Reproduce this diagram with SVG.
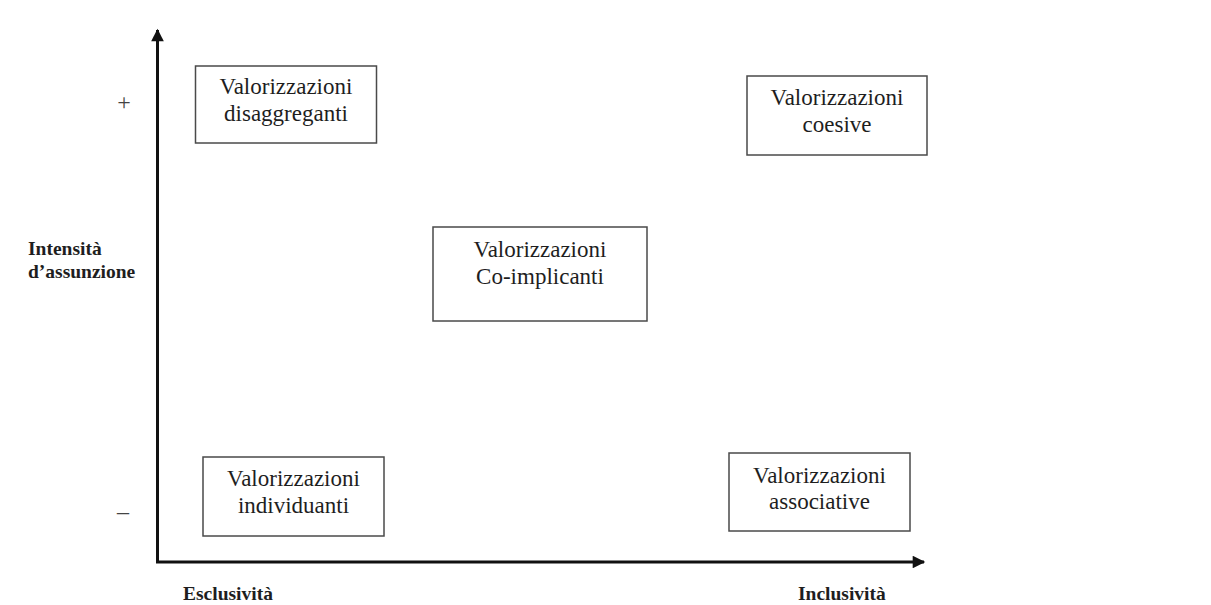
<svg xmlns="http://www.w3.org/2000/svg" width="1211" height="605" viewBox="0 0 1211 605">
  <style>
    .box rect { fill: #fff; stroke: #4a4a4a; stroke-width: 1.5; }
    .box text { font-family: "Liberation Serif", "Times New Roman", serif; font-size: 23px; fill: #1e1e1e; text-anchor: middle; }
    .lbl { font-family: "Liberation Serif", "Times New Roman", serif; font-size: 19.5px; font-weight: bold; fill: #1e1e1e; }
    .sign { font-family: "Liberation Serif", "Times New Roman", serif; font-size: 24px; fill: #444; text-anchor: middle; }
    .axis { stroke: #111; stroke-width: 3; fill: none; }
  </style>
  <defs>
    <marker id="arrow" viewBox="0 0 10 10" refX="9" refY="5" markerWidth="4.6" markerHeight="4.2" orient="auto" markerUnits="strokeWidth">
      <path d="M0,0 L10,5 L0,10 Z" fill="#111"/>
    </marker>
  </defs>
  <rect width="1211" height="605" fill="#fff"/>

  <!-- axes -->
  <g id="connectors">
    <line class="axis" x1="157.5" y1="562" x2="157.5" y2="30" marker-end="url(#arrow)"/>
    <line class="axis" x1="156" y1="562" x2="924" y2="562" marker-end="url(#arrow)"/>
  </g>

  <!-- axis labels -->
  <g id="label-plus"><text class="sign" x="124" y="110">+</text></g>
  <g id="label-minus"><text class="sign" x="123" y="519">–</text></g>
  <g id="label-intensita">
    <text class="lbl" x="28" y="255">Intensità</text>
    <text class="lbl" x="28" y="278">d’assunzione</text>
  </g>
  <g id="label-esclusivita"><text class="lbl" x="183" y="600">Esclusività</text></g>
  <g id="label-inclusivita"><text class="lbl" x="798" y="600">Inclusività</text></g>

  <!-- nodes -->
  <g id="node-disaggreganti" class="box">
    <rect x="195.5" y="66" width="181" height="77"/>
    <text x="286" y="94">Valorizzazioni</text>
    <text x="286" y="121">disaggreganti</text>
  </g>
  <g id="node-coesive" class="box">
    <rect x="747" y="76" width="180" height="79"/>
    <text x="837" y="105">Valorizzazioni</text>
    <text x="837" y="132">coesive</text>
  </g>
  <g id="node-coimplicanti" class="box">
    <rect x="433" y="227" width="214" height="94"/>
    <text x="540" y="257">Valorizzazioni</text>
    <text x="540" y="284">Co-implicanti</text>
  </g>
  <g id="node-individuanti" class="box">
    <rect x="203" y="457" width="181" height="79"/>
    <text x="293.5" y="486">Valorizzazioni</text>
    <text x="293.5" y="513">individuanti</text>
  </g>
  <g id="node-associative" class="box">
    <rect x="729" y="453" width="181" height="78"/>
    <text x="819.5" y="483">Valorizzazioni</text>
    <text x="819.5" y="509">associative</text>
  </g>
</svg>
